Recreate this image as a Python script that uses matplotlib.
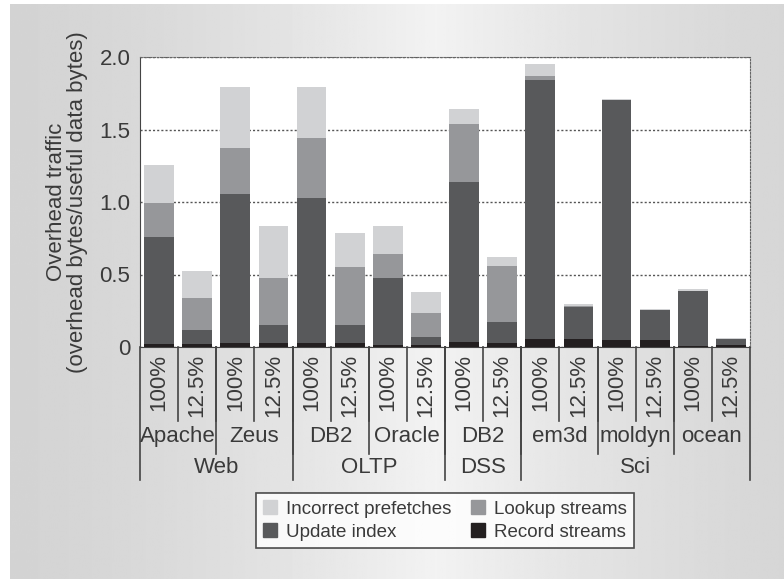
import numpy as np
import matplotlib.pyplot as plt
from matplotlib.patches import Patch

plt.rcParams['font.family'] = ['Liberation Sans', 'DejaVu Sans']

# one bar per (benchmark, history size)
sizes = ['100%', '12.5%'] * 8
benchmarks = ['Apache', 'Zeus', 'DB2', 'Oracle', 'DB2', 'em3d', 'moldyn', 'ocean']
groups = ['Web', 'OLTP', 'DSS', 'Sci']
group_len = [4, 4, 2, 6]

# segment heights, stacked bottom to top
record_streams = [0.02, 0.02, 0.025, 0.025, 0.025, 0.025, 0.012, 0.012,
                  0.032, 0.025, 0.053, 0.053, 0.046, 0.046, 0.005, 0.014]
update_index = [0.74, 0.095, 1.03, 0.13, 1.0, 0.13, 0.463, 0.055,
                1.105, 0.145, 1.79, 0.221, 1.659, 0.207, 0.384, 0.039]
lookup_streams = [0.235, 0.22, 0.32, 0.32, 0.415, 0.40, 0.165, 0.165,
                  0.40, 0.39, 0.028, 0.007, 0.0, 0.0, 0.0, 0.0]
incorrect_prefetches = [0.26, 0.19, 0.42, 0.36, 0.355, 0.23, 0.195, 0.145,
                        0.105, 0.06, 0.083, 0.014, 0.007, 0.007, 0.01, 0.007]

series = [('Record streams', record_streams, '#231f20'),
          ('Update index', update_index, '#58595b'),
          ('Lookup streams', lookup_streams, '#96979a'),
          ('Incorrect prefetches', incorrect_prefetches, '#d1d2d4')]

txt = '#3a3a3a'
fs = 16
W, H = 784, 579
fig = plt.figure(figsize=(W / 100, H / 100), dpi=100)

# grey panel with a soft horizontal shade
bg = fig.add_axes([10 / W, 0, 1 - 10 / W, 1 - 4 / H], zorder=-10)
xs = np.linspace(0, 1, 400)
shade = 0.83 + 0.12 * np.clip(1 - np.abs(xs - 0.55) / 0.55, 0, 1) ** 1.5
bg.imshow(np.tile(shade, (2, 1)), cmap='gray', vmin=0, vmax=1,
          aspect='auto', extent=[0, 1, 0, 1])
bg.set_axis_off()

ax = fig.add_axes([140 / W, 1 - 347 / H, 610 / W, 290 / H])
x = np.arange(len(sizes))
bottom = np.zeros(len(sizes))
for name, vals, col in series:
    ax.bar(x, vals, 0.78, bottom=bottom, color=col, zorder=3)
    bottom += np.array(vals)

ax.set_xlim(-0.5, len(sizes) - 0.5)
ax.set_ylim(0, 2.0)
ax.set_yticks([0, 0.5, 1.0, 1.5, 2.0])
ax.set_yticklabels(['0', '0.5', '1.0', '1.5', '2.0'], fontsize=fs, color=txt)
ax.tick_params(axis='y', length=0, pad=7)
ax.set_xticks([])
ax.yaxis.grid(True, linestyle=(0, (1.5, 1.5)), color='#555555', lw=1, zorder=1)
ax.spines['left'].set_color('#444444')
ax.spines['bottom'].set_color('#444444')
for s in ['top', 'right']:
    ax.spines[s].set_linestyle((0, (1.5, 1.5)))
    ax.spines[s].set_color('#666666')
ax.set_ylabel('Overhead traffic\n(overhead bytes/useful data bytes)',
              fontsize=fs, color=txt, labelpad=8, linespacing=1.0)

tr = ax.get_xaxis_transform()
sep_kw = dict(color='#444444', lw=1.2, clip_on=False, transform=tr)

# size labels and the short separators between them
for i, s in enumerate(sizes):
    ax.text(i, -0.025, s, rotation=90, ha='center', va='top',
            fontsize=fs, color=txt, transform=tr)
    if i < len(sizes) - 1:
        ax.plot([i + 0.5, i + 0.5], [0, -0.255], **sep_kw)

# benchmark names
for j, b in enumerate(benchmarks):
    ax.text(2 * j + 0.5, -0.31, b, ha='center', va='center',
            fontsize=fs, color=txt, transform=tr)
    if j > 0:
        ax.plot([2 * j - 0.5] * 2, [0, -0.37], **sep_kw)

# workload groups
edges = np.concatenate([[0], np.cumsum(group_len)]) - 0.5
for k, g in enumerate(groups):
    ax.text((edges[k] + edges[k + 1]) / 2, -0.415, g, ha='center', va='center',
            fontsize=fs, color=txt, transform=tr)
for e in edges:
    ax.plot([e, e], [0, -0.46], **sep_kw)

handles = [Patch(color=c, label=n) for n, _, c in series]
order = [3, 1, 2, 0]
leg = fig.legend([handles[i] for i in order], [series[i][0] for i in order],
                 ncol=2, loc='center', bbox_to_anchor=(445 / W, 1 - 520.5 / H),
                 fontsize=13.5, frameon=True, fancybox=False, edgecolor='#222222',
                 handlelength=0.75, handleheight=0.75, handletextpad=0.5,
                 columnspacing=1.0, labelspacing=0.3, borderpad=0.4)
leg.get_frame().set_linewidth(1.2)
for t in leg.get_texts():
    t.set_color(txt)

fig.savefig('out.png', dpi=100)
